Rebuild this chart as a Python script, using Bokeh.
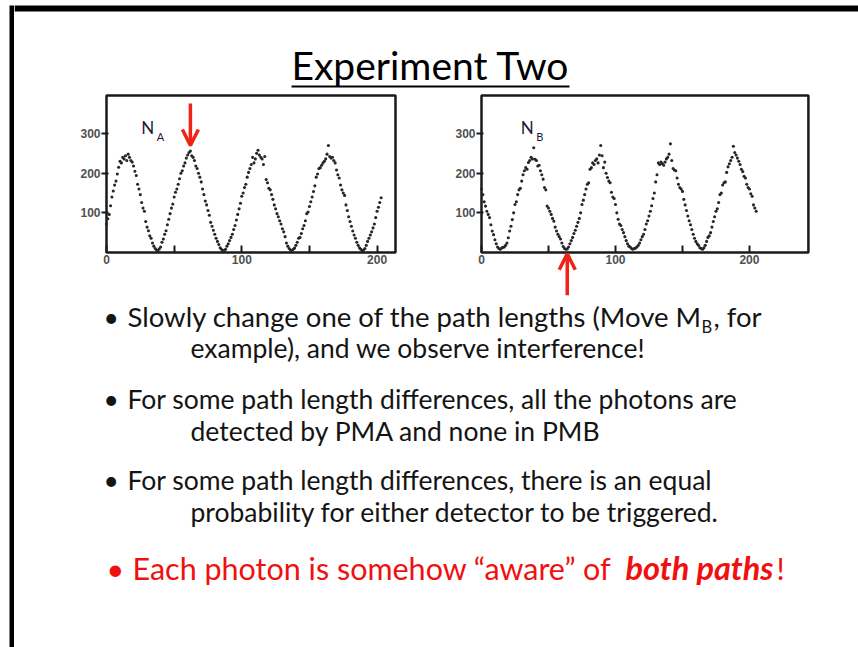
from bokeh.plotting import figure
from bokeh.layouts import column, row
from bokeh.models import Range1d, Spacer, Arrow, OpenHead, FixedTicker
from bokeh.embed import file_html
from bokeh.resources import INLINE
from bokeh.core.properties import value

# ---- counts recorded at detector A versus mirror position ----
pos_a = list(range(0, 204))
counts_a = [
    72, 85, 96, 118, 140, 155, 170, 180, 198, 215, 230, 226, 240, 236, 244, 232, 248, 240, 232, 228,
    218, 205, 194, 172, 160, 146, 126, 112, 104, 78, 64, 55, 42, 36, 24, 16, 10, 6, 4, 9,
    14, 26, 34, 46, 55, 70, 84, 98, 112, 122, 140, 152, 160, 172, 186, 200, 206, 218, 226, 238,
    246, 252, 256, 244, 240, 232, 218, 212, 200, 190, 178, 160, 146, 130, 120, 106, 94, 76, 66, 56,
    46, 36, 28, 20, 12, 8, 5, 4, 8, 16, 22, 30, 38, 46, 58, 68, 82, 96, 110, 124,
    142, 150, 164, 172, 190, 202, 212, 222, 240, 226, 236, 250, 258, 246, 240, 236, 222, 242, 184, 176,
    162, 158, 146, 134, 120, 110, 98, 90, 80, 72, 60, 52, 40, 24, 16, 10, 6, 4, 8, 11,
    18, 26, 36, 38, 48, 60, 68, 80, 98, 102, 116, 128, 140, 154, 168, 190, 198, 212, 214, 220,
    226, 230, 236, 248, 270, 242, 238, 240, 232, 226, 208, 196, 188, 170, 158, 150, 144, 120, 106, 90,
    78, 66, 54, 44, 36, 26, 18, 12, 8, 5, 6, 10, 18, 28, 36, 44, 52, 62, 72, 88,
    104, 114, 126, 138,
]

# ---- counts recorded at detector B versus mirror position ----
pos_b = list(range(0, 206))
counts_b = [
    160, 146, 128, 117, 104, 96, 88, 70, 54, 45, 32, 22, 14, 10, 8, 11, 13, 14, 18, 24,
    37, 54, 66, 83, 100, 121, 128, 146, 158, 162, 180, 196, 206, 214, 210, 227, 232, 240, 236, 264,
    235, 232, 218, 220, 206, 196, 185, 164, 158, 117, 112, 104, 96, 86, 79, 64, 54, 46, 40, 34,
    24, 15, 10, 8, 9, 14, 22, 30, 38, 48, 56, 66, 76, 86, 100, 121, 132, 146, 160, 172,
    176, 210, 214, 226, 222, 232, 236, 226, 246, 270, 244, 214, 228, 200, 189, 180, 176, 152, 140, 136,
    121, 100, 84, 72, 68, 58, 50, 40, 30, 22, 16, 14, 10, 8, 10, 11, 14, 18, 24, 32,
    40, 46, 58, 72, 80, 92, 104, 118, 136, 150, 178, 196, 226, 222, 228, 224, 220, 228, 236, 240,
    248, 274, 232, 212, 208, 206, 188, 172, 164, 160, 154, 134, 120, 106, 92, 80, 70, 58, 46, 36,
    28, 22, 18, 12, 10, 8, 12, 18, 28, 38, 42, 50, 64, 78, 90, 104, 110, 126, 146, 150,
    170, 176, 178, 202, 216, 224, 232, 240, 268, 252, 246, 238, 230, 222, 210, 204, 192, 188, 172, 164,
    160, 148, 142, 120, 112, 104,
]

# axis ticks shared by both panels
x_ticks = [0, 50, 100, 150, 200]
x_tick_labels = {0: "0", 50: "", 100: "100", 150: "", 200: "200"}
y_ticks = [100, 200, 300]
y_top = 396

# marked extremes: peak of A and the matching minimum of B
peak_a_pos, peak_a_count = 62, 256
min_b_pos, min_b_count = 64, 9

RED = "#ee2418"
TEXT_RED = "#f01010"
TEXT = "#141414"
FONT = "Lato"
PAGE_W, PAGE_H = 858, 647
BAR = 14          # width of the strip holding the slide's left border
ROW_H = 208
DROP = 0.4        # baseline correction, fraction of font size


def panel(xs, ys, x_range, x_end, width, sub):
    # the whole canvas is the frame: both axes are pinned at zero and a drawn
    # box outlines the data area, so labels and the arrow below stay visible
    p = figure(width=width, height=ROW_H, x_range=x_range,
               y_range=Range1d(-121.1, 403.5),
               output_backend="svg", toolbar_location=None, min_border=0)
    p.grid.visible = False
    p.outline_line_color = None
    p.background_fill_color = "white"
    p.border_fill_color = "white"

    p.xaxis.fixed_location = 0
    p.yaxis.fixed_location = 0
    p.xaxis.ticker = FixedTicker(ticks=x_ticks)
    p.xaxis.major_label_overrides = x_tick_labels
    p.xaxis.major_tick_in = 7
    p.xaxis.major_tick_out = 0
    p.xaxis.major_label_standoff = 3
    p.yaxis.ticker = FixedTicker(ticks=y_ticks)
    p.yaxis.major_tick_in = 2
    p.yaxis.major_tick_out = 5
    p.yaxis.major_label_standoff = 1
    for ax in (p.xaxis, p.yaxis):
        ax.axis_line_color = None
        ax.minor_tick_line_color = None
        ax.major_tick_line_color = "#1a1a1a"
        ax.major_tick_line_width = 2
        ax.major_label_text_font = "Liberation Sans"
        ax.major_label_text_font_size = "12px"
        ax.major_label_text_font_style = "bold"
        ax.major_label_text_color = "#505050"

    p.quad(left=[0], right=[x_end], bottom=[0], top=[y_top], fill_color=None,
           line_color="#1a1a1a", line_width=2.5)

    p.scatter(xs, ys, size=3.1, fill_color="#262626", line_color=None, marker="circle")

    # detector label N with subscript
    p.text(x=[x_end * 0.12], y=[315], text=["N"], text_font=value(FONT),
           text_font_size="17px", text_color="#1b1b33", text_baseline="alphabetic")
    p.text(x=[x_end * 0.12 + 11.5], y=[292], text=[sub], text_font=value(FONT),
           text_font_size="11px", text_color="#1b1b33", text_baseline="alphabetic")
    return p


pa = panel(pos_a, counts_a, Range1d(-68.0, 217.3), 213.6, 386, "A")
pa.add_layout(Arrow(end=OpenHead(size=16, line_color=RED, line_width=3.5),
                    x_start=peak_a_pos, y_start=peak_a_count + 120,
                    x_end=peak_a_pos, y_end=peak_a_count + 14,
                    line_color=RED, line_width=3.5))

pb = panel(pos_b, counts_b, Range1d(-30.6, 247.8), 244.0, 373, "B")
pb.add_layout(Arrow(end=OpenHead(size=16, line_color=RED, line_width=3.5),
                    x_start=min_b_pos, y_start=min_b_count - 117,
                    x_end=min_b_pos, y_end=min_b_count - 12,
                    line_color=RED, line_width=3.5))


def sheet(height, y0):
    # page-coordinate strip right of the border bar
    s = figure(width=PAGE_W - BAR, height=height, x_range=Range1d(BAR, PAGE_W),
               y_range=Range1d(y0 + height, y0),
               output_backend="svg", toolbar_location=None, min_border=0,
               x_axis_type=None, y_axis_type=None)
    s.grid.visible = False
    s.outline_line_color = None
    return s


# full-height strip with the slide's left border
edge = figure(width=BAR, height=PAGE_H, x_range=Range1d(0, BAR), y_range=Range1d(PAGE_H, 0),
              output_backend="svg", toolbar_location=None, min_border=0,
              x_axis_type=None, y_axis_type=None)
edge.grid.visible = False
edge.outline_line_color = None
edge.quad(left=[9], right=[14], top=[5], bottom=[PAGE_H], fill_color="black", line_color=None)

# title strip
top = sheet(92, 0)
top.quad(left=[BAR], right=[PAGE_W], top=[5], bottom=[11], fill_color="black", line_color=None)
top.text(x=[430], y=[80 - DROP * 39], text=["Experiment Two"], text_font=value(FONT),
         text_font_size="39px", text_color="black", text_align="center",
         text_baseline="alphabetic")
top.segment(x0=[291], y0=[86], x1=[569], y1=[86], line_color="black", line_width=2)

# bullet text
body = sheet(PAGE_H - 300, 300)


def say(x, base, txt, size=26.5, color=TEXT, align="left", style="normal"):
    body.text(x=[x], y=[base - DROP * size], text=[txt], text_font=value(FONT),
              text_font_size=f"{size}px", text_color=color, text_align=align,
              text_baseline="alphabetic", text_font_style=style)


say(103, 327, "•")
say(127, 327, "Slowly change one of the path lengths (Move M", size=27.5)
say(701, 333, "B", size=16.5)
say(713, 327, ", for", size=27.5)
say(190, 358, "example), and we observe interference!")

say(103, 409, "•")
say(127, 409, "For some path length differences, all the photons are")
say(190, 441, "detected by PMA and none in PMB")

say(103, 490, "•")
say(127, 490, "For some path length differences, there is an equal")
say(190, 522, "probability for either detector to be triggered.")

say(106, 580, "•", size=30.5, color=TEXT_RED)
say(132, 580, "Each photon is somehow \u201caware\u201d of", size=30.5, color=TEXT_RED)
say(773, 580, "both paths", size=32.5, color=TEXT_RED, align="right", style="bold italic")
say(776, 580, "!", size=30.5, color=TEXT_RED)

layout = row(edge,
             column(top,
                    row(pa, Spacer(width=40, height=ROW_H), pb, Spacer(width=45, height=ROW_H)),
                    body))

open("out.html", "w").write(file_html(layout, INLINE))
